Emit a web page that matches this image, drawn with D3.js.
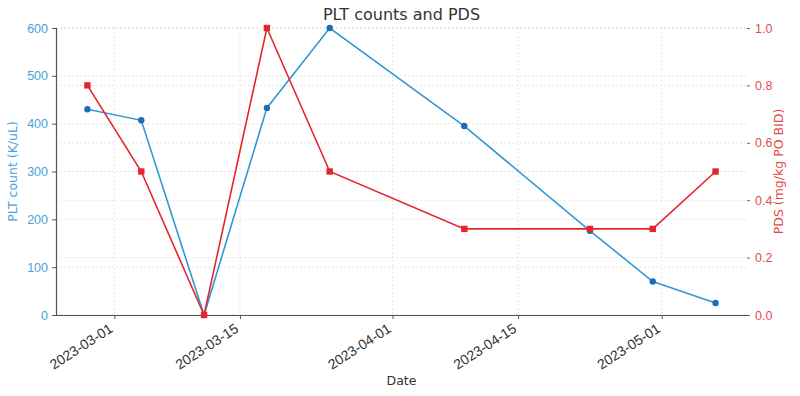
<!DOCTYPE html>
<html>
<head>
<meta charset="utf-8">
<script src="https://cdn.jsdelivr.net/npm/d3@7"></script>
<style>
  body { margin: 0; background: #fff; }
  svg { font-family: "DejaVu Sans", sans-serif; }
</style>
</head>
<body>
<div id="chart"></div>
<script>
// Data
const dates = ["2023-02-26", "2023-03-04", "2023-03-11", "2023-03-18", "2023-03-25",
               "2023-04-09", "2023-04-23", "2023-04-30", "2023-05-07"];
const pltCounts = [430, 407, 0, 433, 600, 395, 176, 70, 25];
const pdsDoses = [0.8, 0.5, 0, 1.0, 0.5, 0.3, 0.3, 0.3, 0.5];
const xTickLabels = ["2023-03-01", "2023-03-15", "2023-04-01", "2023-04-15", "2023-05-01"];
const leftTicks = [0, 100, 200, 300, 400, 500, 600];
const rightTicks = [0, 0.2, 0.4, 0.6, 0.8, 1.0];

const width = 800, height = 396;
const margin = { top: 28, right: 53, bottom: 81, left: 56 };

const blue = "#3298d4", blueDark = "#1c6db3", blueText = "#4ba2da";
const red = "#e3262d", redText = "#e24b4b";

const parse = d3.timeParse("%Y-%m-%d");
const data = dates.map((d, i) => ({ date: parse(d), plt: pltCounts[i], pds: pdsDoses[i] }));

const svg = d3.select("#chart").append("svg")
    .attr("width", width)
    .attr("height", height);

// x domain with matplotlib-like 5% padding
const ext = d3.extent(data, d => d.date);
const pad = (ext[1] - ext[0]) * 0.05;
const x = d3.scaleTime()
    .domain([new Date(+ext[0] - pad), new Date(+ext[1] + pad)])
    .range([margin.left, width - margin.right]);

const yL = d3.scaleLinear().domain([0, 600]).range([height - margin.bottom, margin.top]);
const yR = d3.scaleLinear().domain([0, 1]).range([height - margin.bottom, margin.top]);

const x0 = margin.left, x1 = width - margin.right;
const yBottom = height - margin.bottom;

// grids
const grid = svg.append("g").attr("stroke", "#dedede").attr("stroke-dasharray", "2,2").attr("stroke-width", 0.8);
grid.selectAll(".gl").data(leftTicks).join("line")
    .attr("x1", x0).attr("x2", x1)
    .attr("y1", d => yL(d)).attr("y2", d => yL(d));
grid.selectAll(".gr").data(rightTicks).join("line")
    .attr("x1", x0).attr("x2", x1)
    .attr("y1", d => yR(d)).attr("y2", d => yR(d));
grid.selectAll(".gx").data(xTickLabels).join("line")
    .attr("x1", d => x(parse(d))).attr("x2", d => x(parse(d)))
    .attr("y1", margin.top).attr("y2", yBottom);

// left axis
svg.append("g")
    .attr("transform", `translate(${x0},0)`)
    .call(d3.axisLeft(yL).tickValues(leftTicks).tickSize(4).tickPadding(4))
    .call(g => g.select(".domain").attr("stroke", "#555").attr("stroke-width", 1.2))
    .call(g => g.selectAll(".tick line").attr("stroke", "#555"))
    .call(g => g.selectAll(".tick text").attr("fill", blueText).attr("font-size", 12.5));

// right axis
svg.append("g")
    .attr("transform", `translate(${x1},0)`)
    .call(d3.axisRight(yR).tickValues(rightTicks).tickFormat(d3.format(".1f")).tickSize(3).tickPadding(5))
    .call(g => g.select(".domain").remove())
    .call(g => g.selectAll(".tick line").attr("stroke", "#666"))
    .call(g => g.selectAll(".tick text").attr("fill", redText).attr("font-size", 12.5));

// bottom axis
svg.append("g")
    .attr("transform", `translate(0,${yBottom})`)
    .call(d3.axisBottom(x).tickValues(xTickLabels.map(parse)).tickFormat(d3.timeFormat("%Y-%m-%d")).tickSize(4).tickSizeOuter(0))
    .call(g => g.select(".domain").attr("stroke", "#555").attr("stroke-width", 1.2))
    .call(g => g.selectAll(".tick text")
        .attr("fill", "#333").attr("font-size", 14)
        .attr("text-anchor", "end")
        .attr("x", 0).attr("y", 0).attr("dy", 0)
        .attr("transform", "translate(-1,16) rotate(-33)"))
    .call(g => g.selectAll(".tick line").attr("stroke", "#555"));

// PLT line
svg.append("path")
    .datum(data)
    .attr("fill", "none")
    .attr("stroke", blue)
    .attr("stroke-width", 1.6)
    .attr("d", d3.line().x(d => x(d.date)).y(d => yL(d.plt)));
svg.append("g").selectAll("circle").data(data).join("circle")
    .attr("cx", d => x(d.date)).attr("cy", d => yL(d.plt))
    .attr("r", 3.2).attr("fill", blueDark);

// PDS line
svg.append("path")
    .datum(data)
    .attr("fill", "none")
    .attr("stroke", red)
    .attr("stroke-width", 1.6)
    .attr("d", d3.line().x(d => x(d.date)).y(d => yR(d.pds)));
svg.append("g").selectAll("rect").data(data).join("rect")
    .attr("x", d => x(d.date) - 3.2).attr("y", d => yR(d.pds) - 3.2)
    .attr("width", 6.4).attr("height", 6.4).attr("fill", red);

// title and labels
svg.append("text")
    .attr("x", (x0 + x1) / 2).attr("y", 20)
    .attr("text-anchor", "middle").attr("font-size", 16).attr("fill", "#333")
    .text("PLT counts and PDS");

svg.append("text")
    .attr("x", (x0 + x1) / 2).attr("y", 385)
    .attr("text-anchor", "middle").attr("font-size", 12.5).attr("fill", "#333")
    .text("Date");

svg.append("text")
    .attr("transform", `translate(17,${(margin.top + yBottom) / 2}) rotate(-90)`)
    .attr("text-anchor", "middle").attr("font-size", 12.5).attr("fill", blueText)
    .text("PLT count (K/uL)");

svg.append("text")
    .attr("transform", `translate(783,${(margin.top + yBottom) / 2}) rotate(-90)`)
    .attr("text-anchor", "middle").attr("font-size", 12.5).attr("fill", redText)
    .text("PDS (mg/kg PO BID)");
</script>
</body>
</html>
